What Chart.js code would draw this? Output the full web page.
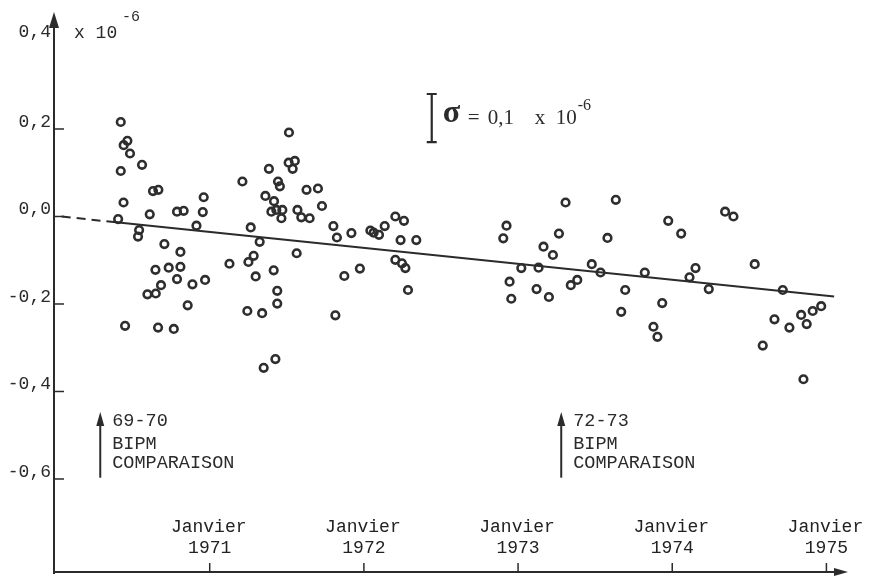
<!DOCTYPE html>
<html>
<head>
<meta charset="utf-8">
<script src="https://cdn.jsdelivr.net/npm/chart.js@4.4.1/dist/chart.umd.min.js"></script>
<style>
  html, body { margin: 0; padding: 0; background: #fff; }
  #wrap { width: 869px; height: 579px; position: relative; }
</style>
</head>
<body>
<div id="wrap"><canvas id="chart"></canvas></div>
<script>
// measurement dates (decimal years) and deviations (x 10^-6)
const pointYears = [
  1970.423, 1970.466, 1970.442, 1970.483, 1970.561, 1970.423, 1970.632, 1970.667,
  1970.441, 1970.961, 1970.611, 1970.788, 1970.831, 1970.955, 1970.406, 1970.914,
  1970.542, 1970.535, 1970.706, 1970.810, 1970.648, 1970.734, 1970.810, 1970.788,
  1970.684, 1970.650, 1970.596, 1970.888, 1970.970, 1970.857, 1970.451, 1970.665,
  1970.767,
  1971.212, 1971.266, 1971.324, 1971.285, 1971.251, 1971.128, 1971.298, 1971.415,
  1971.438, 1971.438, 1971.244, 1971.340, 1971.426, 1971.350, 1971.514, 1971.512,
  1971.552, 1971.538, 1971.384, 1971.443, 1971.455, 1971.361, 1971.417, 1971.400,
  1971.432, 1971.471, 1971.465, 1971.569, 1971.594, 1971.648, 1971.628, 1971.702,
  1971.728, 1971.564, 1971.802, 1971.825, 1971.919, 1971.873, 1971.974, 1971.815,
  1972.042, 1972.063, 1972.098, 1972.135, 1972.204, 1972.260, 1972.238, 1972.340,
  1972.204, 1972.247, 1972.269, 1972.286,
  1972.925, 1972.904, 1972.945, 1972.956, 1973.021, 1973.133, 1973.120, 1973.200,
  1973.165, 1973.226, 1973.265, 1973.308, 1973.342, 1973.384, 1973.478, 1973.535,
  1973.580, 1973.634, 1973.669, 1973.695, 1973.822, 1973.878, 1973.904, 1973.935,
  1973.974, 1974.058, 1974.112, 1974.151, 1974.237, 1974.343, 1974.397, 1974.535,
  1974.587, 1974.663, 1974.717, 1974.760, 1974.836, 1974.872, 1974.911, 1974.966,
  1974.851
];
const pointValues = [
  0.216, 0.173, 0.163, 0.144, 0.118, 0.104, 0.058, 0.061,
  0.032, 0.044, 0.005, 0.011, 0.013, 0.010, -0.006, -0.021,
  -0.031, -0.046, -0.063, -0.081, -0.122, -0.117, -0.115, -0.143,
  -0.157, -0.176, -0.178, -0.155, -0.145, -0.203, -0.250, -0.254,
  -0.257,
  0.080, -0.025, -0.058, -0.090, -0.104, -0.108, -0.137, -0.123,
  -0.170, -0.199, -0.216, -0.221, -0.326, -0.346, 0.192, 0.123,
  0.127, 0.109, 0.109, 0.080, 0.069, 0.047, 0.035, 0.011,
  0.015, 0.015, -0.004, 0.015, -0.002, -0.004, 0.061, 0.064,
  0.024, -0.084, -0.022, -0.048, -0.038, -0.136, -0.119, -0.226,
  -0.032, -0.037, -0.042, -0.022, 0.000, -0.010, -0.054, -0.054,
  -0.099, -0.107, -0.118, -0.168,
  -0.021, -0.050, -0.149, -0.188, -0.118, -0.117, -0.166, -0.184,
  -0.069, -0.088, -0.039, 0.032, -0.157, -0.145, -0.109, -0.128,
  -0.049, 0.038, -0.218, -0.168, -0.128, -0.252, -0.275, -0.198,
  -0.010, -0.039, -0.139, -0.118, -0.166, 0.011, 0.000, -0.109,
  -0.295, -0.235, -0.168, -0.254, -0.225, -0.246, -0.216, -0.205,
  -0.372
];

// drift line: dashed extrapolation, then solid fit
const dashYears = [1970.04, 1970.33];
const dashValues = [0.000, -0.011];
const fitYears = [1970.33, 1975.05];
const fitValues = [-0.011, -0.183];

const yTickValues = [0.4, 0.2, 0.0, -0.2, -0.4, -0.6];
const yTickLabels = ["0,4", "0,2", "0,0", "-0,2", "-0,4", "-0,6"];
const xTickYears = [1971, 1972, 1973, 1974, 1975];
const xTickLabels = ["1971", "1972", "1973", "1974", "1975"];
const compYears = [1970.29, 1973.28];
const compLabels = ["69-70", "72-73"];

const ink = "#2b2b2b";
const mono = "'Liberation Mono', 'DejaVu Sans Mono', monospace";
const serif = "'Liberation Serif', 'DejaVu Serif', serif";

const toXY = (xs, ys) => xs.map((v, i) => ({ x: v, y: ys[i] }));

const decor = {
  id: "decor",
  beforeDatasetsDraw(chart) {
    const { ctx, chartArea, scales: { x, y } } = chart;
    const ax = chartArea.left;
    const ay = chartArea.bottom;
    ctx.save();
    ctx.strokeStyle = ink;
    ctx.fillStyle = ink;
    ctx.lineWidth = 2;

    // y axis + arrow
    ctx.beginPath();
    ctx.moveTo(ax, ay + 2);
    ctx.lineTo(ax, chartArea.top + 12);
    ctx.stroke();
    ctx.beginPath();
    ctx.moveTo(ax, chartArea.top);
    ctx.lineTo(ax - 5, chartArea.top + 16);
    ctx.lineTo(ax + 5, chartArea.top + 16);
    ctx.closePath();
    ctx.fill();

    // x axis + arrow
    ctx.beginPath();
    ctx.moveTo(ax - 1, ay);
    ctx.lineTo(chartArea.right - 10, ay);
    ctx.stroke();
    ctx.beginPath();
    ctx.moveTo(chartArea.right, ay);
    ctx.lineTo(chartArea.right - 14, ay - 4);
    ctx.lineTo(chartArea.right - 14, ay + 4);
    ctx.closePath();
    ctx.fill();

    // y ticks and labels
    ctx.lineWidth = 1.5;
    ctx.font = "18px " + mono;
    ctx.textAlign = "right";
    ctx.textBaseline = "middle";
    yTickValues.forEach((v, i) => {
      const py = y.getPixelForValue(v);
      if (v < 0.3) {
        ctx.beginPath();
        ctx.moveTo(ax, py);
        ctx.lineTo(ax + 10, py);
        ctx.stroke();
      }
      ctx.fillText(yTickLabels[i], ax - 3, py - (v > 0.3 ? 9 : 7));
    });

    // x ticks and labels
    ctx.textAlign = "center";
    ctx.fillStyle = "#222";
    xTickYears.forEach((v, i) => {
      const px = x.getPixelForValue(v);
      ctx.beginPath();
      ctx.moveTo(px, ay - 9);
      ctx.lineTo(px, ay + 1);
      ctx.stroke();
      ctx.fillText("Janvier", px - 1, ay - 45);
      ctx.fillText(xTickLabels[i], px, ay - 24);
    });
    ctx.fillStyle = ink;

    // unit label
    ctx.textAlign = "left";
    ctx.font = "18px " + mono;
    ctx.fillText("x 10", ax + 20, 33);
    ctx.font = "15px " + mono;
    ctx.fillText("-6", ax + 68, 17);

    // sigma scale bar
    const sx = x.getPixelForValue(1972.44);
    const s1 = y.getPixelForValue(0.28);
    const s2 = y.getPixelForValue(0.17);
    const sm = (s1 + s2) / 2;
    ctx.lineWidth = 2.2;
    ctx.beginPath();
    ctx.moveTo(sx, s1); ctx.lineTo(sx, s2);
    ctx.moveTo(sx - 5, s1); ctx.lineTo(sx + 5, s1);
    ctx.moveTo(sx - 5, s2); ctx.lineTo(sx + 5, s2);
    ctx.stroke();
    ctx.font = "bold 32px " + serif;
    ctx.fillText("\u03c3", sx + 11, sm - 4);
    ctx.font = "21px " + serif;
    ctx.fillText("=", sx + 36, sm);
    ctx.fillText("0,1", sx + 56, sm);
    ctx.fillText("x", sx + 103, sm);
    ctx.fillText("10", sx + 124, sm);
    ctx.font = "16px " + serif;
    ctx.fillText("-6", sx + 146, sm - 12);

    // BIPM comparison arrows
    compYears.forEach((v, i) => {
      const px = x.getPixelForValue(v);
      const tip = y.getPixelForValue(-0.447);
      const base = y.getPixelForValue(-0.597);
      ctx.lineWidth = 2;
      ctx.beginPath();
      ctx.moveTo(px, base); ctx.lineTo(px, tip + 8);
      ctx.stroke();
      ctx.beginPath();
      ctx.moveTo(px, tip);
      ctx.lineTo(px - 4, tip + 14);
      ctx.lineTo(px + 4, tip + 14);
      ctx.closePath();
      ctx.fill();
      ctx.font = "18.5px " + mono;
      ctx.textAlign = "left";
      ctx.fillText(compLabels[i], px + 12, tip + 9);
      ctx.fillText("BIPM", px + 12, tip + 32);
      ctx.fillText("COMPARAISON", px + 12, tip + 51);
    });
    ctx.restore();
  }
};

new Chart(document.getElementById("chart"), {
  type: "scatter",
  data: {
    datasets: [
      {
        data: toXY(dashYears, dashValues),
        showLine: true,
        borderColor: ink,
        borderWidth: 2,
        borderDash: [9, 6],
        pointRadius: 0
      },
      {
        data: toXY(fitYears, fitValues),
        showLine: true,
        borderColor: ink,
        borderWidth: 2,
        pointRadius: 0
      },
      {
        data: toXY(pointYears, pointValues),
        pointStyle: "circle",
        pointRadius: 3.8,
        pointBorderWidth: 2.6,
        pointBorderColor: "#2e2e2e",
        pointBackgroundColor: "rgba(255,255,255,0)"
      }
    ]
  },
  options: {
    responsive: true,
    maintainAspectRatio: false,
    animation: false,
    events: [],
    layout: { padding: { left: 54, right: 21, top: 12, bottom: 7 } },
    plugins: { legend: { display: false }, tooltip: { enabled: false } },
    scales: {
      x: { type: "linear", display: false, min: 1969.99, max: 1975.14 },
      y: { type: "linear", display: false, min: -0.8126, max: 0.4674 }
    }
  },
  plugins: [decor]
});
</script>
</body>
</html>
